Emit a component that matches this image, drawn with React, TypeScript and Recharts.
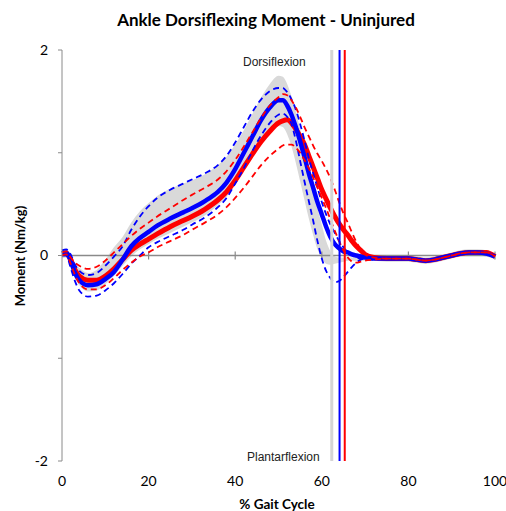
import React from "react";
import {
  ComposedChart,
  Area,
  Line,
  XAxis,
  YAxis,
  ReferenceLine,
} from "recharts";

// % gait cycle samples
const gait = [
  0, 1, 2, 3, 4, 6, 8, 10, 12, 14, 16, 18, 20, 22, 25, 28, 30, 33, 36, 38,
  40, 42, 44, 46, 48, 50, 51, 52, 53, 54, 55, 56, 57, 58, 59, 60, 61, 62, 63, 64,
  65, 66, 67, 68, 69, 70, 72, 75, 78, 80, 82, 84, 86, 88, 90, 92, 94, 96, 98, 100,
];

// blue group mean and +/- SD
const blueMean = [
  0.02, 0.03, -0.05, -0.17, -0.24, -0.29, -0.28, -0.23, -0.16, -0.04, 0.09, 0.17, 0.23, 0.29, 0.36, 0.42, 0.46, 0.53, 0.62, 0.71,
  0.84, 1.0, 1.16, 1.32, 1.44, 1.51, 1.51, 1.46, 1.37, 1.25, 1.11, 0.96, 0.8, 0.66, 0.52, 0.4, 0.28, 0.18, 0.11, 0.07,
  0.04, 0.03, 0.01, 0.0, -0.01, -0.02, -0.03, -0.03, -0.03, -0.03, -0.04, -0.05, -0.04, -0.02, 0.0, 0.02, 0.03, 0.03, 0.02, -0.01,
];
const blueHigh = [
  0.05, 0.06, 0.01, -0.09, -0.15, -0.19, -0.17, -0.1, -0.01, 0.09, 0.25, 0.38, 0.48, 0.56, 0.64, 0.7, 0.74, 0.8, 0.88, 0.97,
  1.1, 1.25, 1.4, 1.52, 1.6, 1.63, 1.63, 1.59, 1.52, 1.42, 1.28, 1.12, 0.95, 0.8, 0.66, 0.52, 0.4, 0.3, 0.22, 0.14,
  0.08, 0.03, 0.0, -0.02, -0.03, -0.03, -0.03, -0.03, -0.03, -0.03, -0.04, -0.05, -0.04, -0.02, 0.0, 0.02, 0.03, 0.03, 0.02, -0.01,
];
const blueLow = [
  0.0, 0.0, -0.12, -0.25, -0.34, -0.4, -0.39, -0.34, -0.27, -0.18, -0.08, 0.0, 0.08, 0.13, 0.19, 0.25, 0.3, 0.37, 0.47, 0.56,
  0.7, 0.85, 1.02, 1.17, 1.29, 1.37, 1.38, 1.35, 1.28, 1.12, 0.92, 0.72, 0.53, 0.34, 0.14, -0.03, -0.15, -0.22, -0.26, -0.25,
  -0.21, -0.16, -0.11, -0.07, -0.04, -0.03, -0.04, -0.03, -0.03, -0.03, -0.04, -0.05, -0.04, -0.02, 0.0, 0.02, 0.03, 0.03, 0.02, -0.01,
];

// red group mean and +/- SD
const redMean = [
  0.02, 0.02, -0.04, -0.14, -0.2, -0.24, -0.24, -0.2, -0.13, -0.04, 0.05, 0.11, 0.16, 0.21, 0.28, 0.34, 0.38, 0.45, 0.54, 0.62,
  0.73, 0.86, 0.99, 1.11, 1.21, 1.29, 1.31, 1.32, 1.29, 1.23, 1.16, 1.08, 0.97, 0.86, 0.75, 0.64, 0.55, 0.46, 0.38, 0.31,
  0.25, 0.2, 0.14, 0.09, 0.05, 0.01, -0.02, -0.03, -0.03, -0.03, -0.04, -0.05, -0.04, -0.02, 0.0, 0.02, 0.03, 0.03, 0.03, -0.01,
];
const redHigh = [
  0.03, 0.04, -0.02, -0.07, -0.1, -0.13, -0.11, -0.05, 0.03, 0.11, 0.19, 0.26, 0.32, 0.38, 0.46, 0.54, 0.59, 0.66, 0.74, 0.82,
  0.93, 1.06, 1.2, 1.34, 1.46, 1.54, 1.57, 1.56, 1.51, 1.44, 1.35, 1.25, 1.16, 1.07, 0.99, 0.92, 0.84, 0.75, 0.64, 0.52,
  0.41, 0.32, 0.22, 0.13, 0.06, 0.01, -0.02, -0.03, -0.03, -0.03, -0.04, -0.05, -0.04, -0.02, 0.0, 0.02, 0.03, 0.03, 0.03, -0.01,
];
const redLow = [
  0.0, 0.01, -0.08, -0.19, -0.27, -0.33, -0.33, -0.29, -0.22, -0.14, -0.07, -0.01, 0.03, 0.08, 0.14, 0.2, 0.25, 0.32, 0.4, 0.47,
  0.56, 0.66, 0.77, 0.88, 0.97, 1.04, 1.07, 1.08, 1.08, 1.05, 1.0, 0.93, 0.85, 0.76, 0.66, 0.56, 0.46, 0.35, 0.24, 0.14,
  0.05, -0.02, -0.06, -0.07, -0.06, -0.05, -0.04, -0.03, -0.03, -0.03, -0.04, -0.05, -0.04, -0.02, 0.0, 0.02, 0.03, 0.03, 0.03, -0.01,
];

// grey normative band
const normHigh = [
  0.06, 0.06, 0.0, -0.08, -0.12, -0.17, -0.14, -0.04, 0.08, 0.18, 0.32, 0.43, 0.51, 0.58, 0.65, 0.7, 0.73, 0.79, 0.88, 0.96,
  1.08, 1.22, 1.38, 1.54, 1.67, 1.75, 1.74, 1.67, 1.55, 1.4, 1.23, 1.05, 0.85, 0.65, 0.46, 0.3, 0.14, 0.04, -0.01, -0.02,
  -0.02, -0.02, -0.02, -0.02, -0.02, -0.01, -0.01, 0.0, 0.0, 0.0, -0.01, -0.02, -0.01, 0.01, 0.03, 0.05, 0.06, 0.06, 0.05, 0.02,
];
const normLow = [
  -0.03, -0.02, -0.12, -0.22, -0.29, -0.35, -0.34, -0.28, -0.2, -0.1, -0.01, 0.06, 0.11, 0.16, 0.22, 0.28, 0.32, 0.39, 0.49, 0.57,
  0.69, 0.83, 0.97, 1.11, 1.21, 1.26, 1.25, 1.18, 1.06, 0.9, 0.72, 0.54, 0.36, 0.2, 0.06, -0.03, -0.08, -0.09, -0.08, -0.07,
  -0.06, -0.05, -0.05, -0.05, -0.05, -0.05, -0.05, -0.06, -0.06, -0.06, -0.07, -0.08, -0.07, -0.05, -0.03, -0.01, 0.0, 0.0, -0.01, -0.04,
];

// toe-off markers (% gait cycle)
const toeOffNorm = 62.3;
const toeOffBlue = 64.1;
const toeOffRed = 65.3;

const xTicks = [0, 20, 40, 60, 80, 100];
const yTicks = [-2, -1, 0, 1, 2];

const data = gait.map((x, i) => ({
  x,
  band: [normLow[i], normHigh[i]],
  blueMean: blueMean[i],
  blueHigh: blueHigh[i],
  blueLow: blueLow[i],
  redMean: redMean[i],
  redHigh: redHigh[i],
  redLow: redLow[i],
}));

const AXIS = "#8a8a8a";
const BLUE = "#0000ff";
const RED = "#ff0000";
const sans = "Lato, 'Open Sans', sans-serif";

export default function App() {
  return (
    <div
      style={{
        position: "absolute",
        left: 0,
        top: 0,
        width: 506,
        height: 511,
        background: "#fff",
        fontFamily: sans,
      }}
    >
      <div
        style={{
          position: "absolute",
          left: 0,
          width: 532,
          top: 10,
          textAlign: "center",
          fontWeight: 700,
          fontSize: 17,
          lineHeight: "20px",
          color: "#000",
        }}
      >
        Ankle Dorsiflexing Moment - Uninjured
      </div>

      <ComposedChart
        width={506}
        height={511}
        data={data}
        margin={{ top: 50, right: 11, left: 0, bottom: 0 }}
      >
        <XAxis
          dataKey="x"
          type="number"
          domain={[0, 100]}
          ticks={xTicks}
          axisLine={false}
          tickLine={false}
          tickMargin={9}
          height={50}
          tick={{ fill: "#000", fontSize: 14, fontFamily: sans }}
        />
        <YAxis
          type="number"
          domain={[-2, 2]}
          ticks={yTicks}
          width={62}
          stroke={AXIS}
          tickSize={4}
          tickMargin={10}
          tickFormatter={(v) => (v === 1 || v === -1 ? "" : String(v))}
          tick={{ fill: "#000", fontSize: 14, fontFamily: sans }}
        />

        <Area
          dataKey="band"
          type="monotone"
          stroke="none"
          fill="#d9d9d9"
          fillOpacity={1}
          isAnimationActive={false}
        />

        <ReferenceLine y={0} stroke={AXIS} strokeWidth={1.5} />
        {xTicks.slice(1).map((t) => (
          <ReferenceLine
            key={t}
            segment={[
              { x: t, y: -0.04 },
              { x: t, y: 0.04 },
            ]}
            stroke={AXIS}
            strokeWidth={1.2}
          />
        ))}

        <Line dataKey="redMean" type="monotone" stroke={RED} strokeWidth={5} dot={false} isAnimationActive={false} />
        <Line dataKey="blueMean" type="monotone" stroke={BLUE} strokeWidth={4.5} dot={false} isAnimationActive={false} />
        <Line dataKey="blueHigh" type="monotone" stroke={BLUE} strokeWidth={1.8} strokeDasharray="6 4" dot={false} isAnimationActive={false} />
        <Line dataKey="blueLow" type="monotone" stroke={BLUE} strokeWidth={1.8} strokeDasharray="6 4" dot={false} isAnimationActive={false} />
        <Line dataKey="redHigh" type="monotone" stroke={RED} strokeWidth={1.8} strokeDasharray="6 4" dot={false} isAnimationActive={false} />
        <Line dataKey="redLow" type="monotone" stroke={RED} strokeWidth={1.8} strokeDasharray="6 4" dot={false} isAnimationActive={false} />

        <ReferenceLine x={toeOffNorm} stroke="#d4d4d4" strokeWidth={3} />
        <ReferenceLine x={toeOffBlue} stroke={BLUE} strokeWidth={2} />
        <ReferenceLine x={toeOffRed} stroke={RED} strokeWidth={2} />
      </ComposedChart>

      <div
        style={{
          position: "absolute",
          left: 243,
          top: 55,
          fontFamily: "'Liberation Sans', Arial, sans-serif",
          fontSize: 12,
          lineHeight: "14px",
          color: "#222",
        }}
      >
        Dorsiflexion
      </div>
      <div
        style={{
          position: "absolute",
          left: 247,
          top: 450,
          fontFamily: "'Liberation Sans', Arial, sans-serif",
          fontSize: 12,
          lineHeight: "14px",
          color: "#222",
        }}
      >
        Plantarflexion
      </div>

      <div
        style={{
          position: "absolute",
          left: 20,
          top: 256,
          transform: "translate(-50%, -50%) rotate(-90deg)",
          whiteSpace: "nowrap",
          fontWeight: 700,
          fontSize: 13,
          color: "#000",
        }}
      >
        Moment (Nm/kg)
      </div>
      <div
        style={{
          position: "absolute",
          left: 277,
          top: 504,
          transform: "translate(-50%, -50%)",
          whiteSpace: "nowrap",
          fontWeight: 700,
          fontSize: 13.5,
          color: "#000",
        }}
      >
        % Gait Cycle
      </div>
    </div>
  );
}
